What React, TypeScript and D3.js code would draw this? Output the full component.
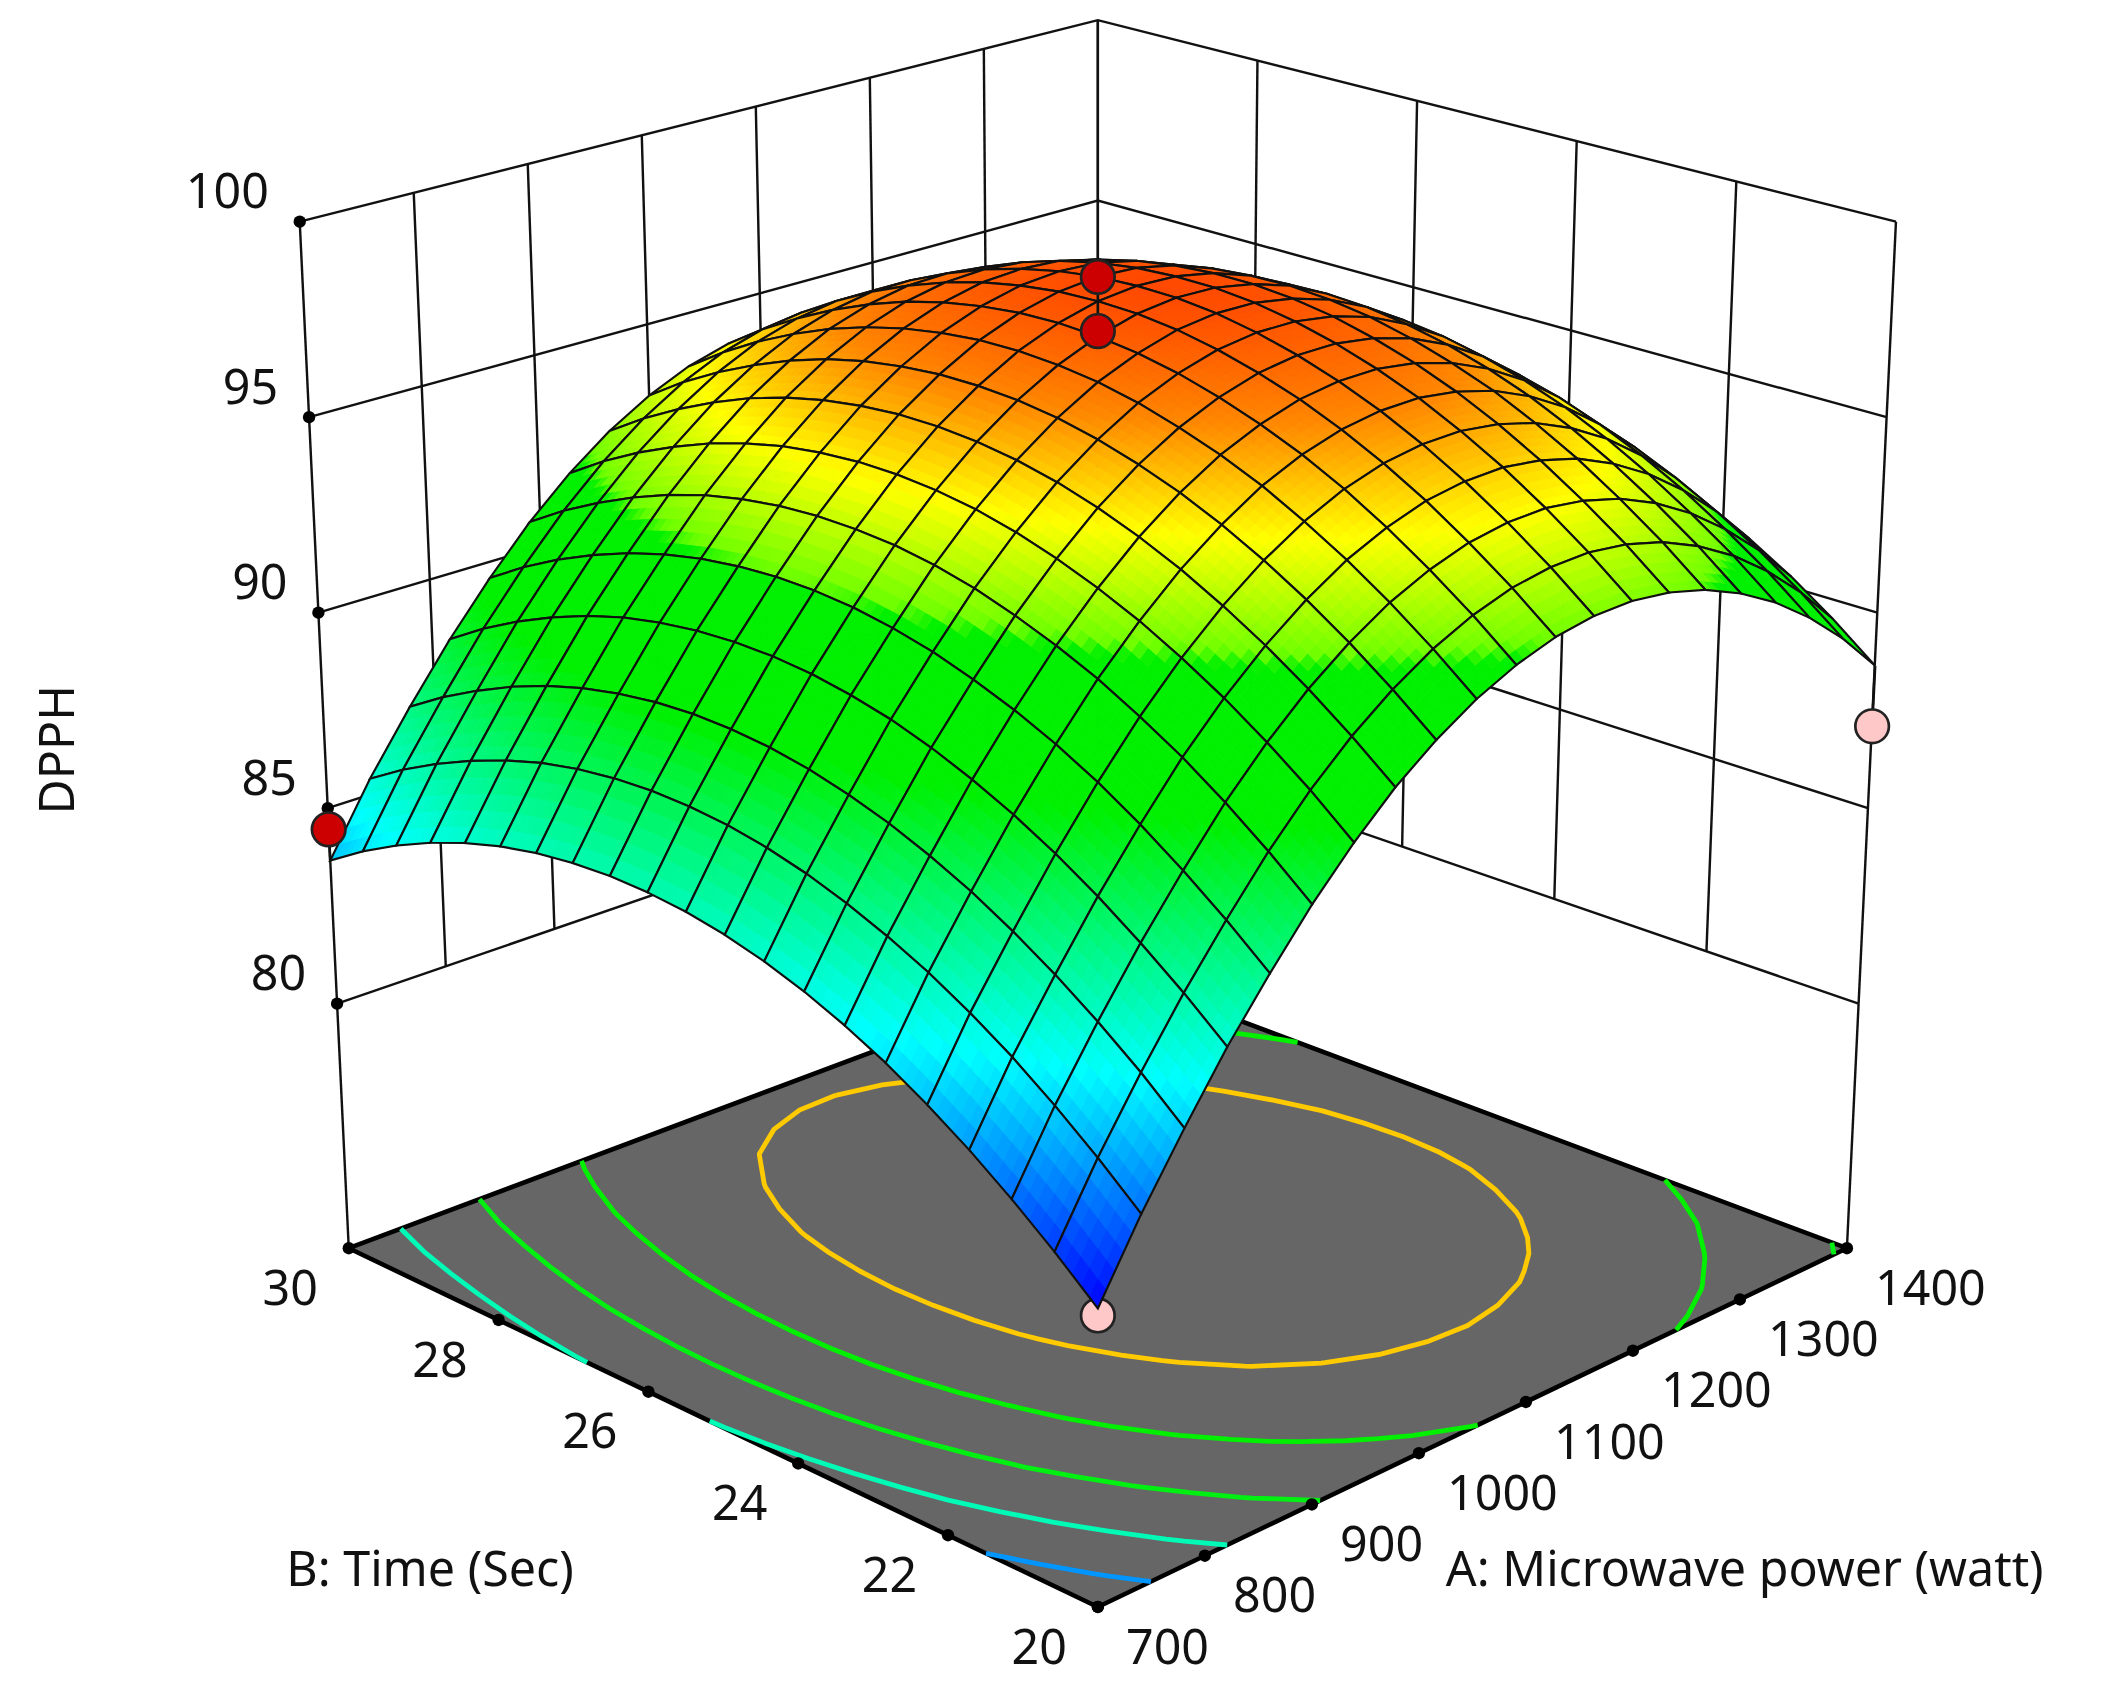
import * as d3 from "d3";

const VIEW_W = 1568;
const VIEW_H = 1263;

const powerTicks = [700, 800, 900, 1000, 1100, 1200, 1300, 1400];
const timeTicks = [20, 22, 24, 26, 28, 30];
const dpphTicks = [80, 85, 90, 95, 100];
const contourLevels = [83, 86, 89, 92, 95];

// DPPH, one row per time step (20 -> 30 s), one column per power step (700 -> 1400 W)
const dpphGrid = [
  [80.6, 82.35, 83.91, 85.39, 86.73, 87.98, 89.07, 90.02, 90.81, 91.46, 91.95, 92.3, 92.49, 92.54, 92.43, 92.18, 91.77, 91.22, 90.51, 89.66, 88.65],
  [81.48, 83.23, 84.79, 86.27, 87.61, 88.86, 89.95, 90.9, 91.69, 92.34, 92.83, 93.18, 93.37, 93.42, 93.31, 93.06, 92.65, 92.1, 91.39, 90.53, 89.52],
  [82.28, 84.03, 85.59, 87.07, 88.41, 89.66, 90.75, 91.7, 92.49, 93.14, 93.62, 93.97, 94.16, 94.21, 94.09, 93.84, 93.43, 92.87, 92.16, 91.31, 90.3],
  [83.01, 84.76, 86.32, 87.8, 89.14, 90.39, 91.48, 92.42, 93.21, 93.86, 94.34, 94.69, 94.87, 94.92, 94.8, 94.55, 94.13, 93.57, 92.86, 92.0, 90.98],
  [83.66, 85.41, 86.97, 88.45, 89.79, 91.03, 92.12, 93.06, 93.85, 94.49, 94.98, 95.32, 95.5, 95.54, 95.42, 95.16, 94.74, 94.18, 93.46, 92.59, 91.57],
  [84.24, 85.99, 87.55, 89.02, 90.36, 91.61, 92.69, 93.63, 94.41, 95.06, 95.54, 95.87, 96.05, 96.09, 95.96, 95.7, 95.27, 94.7, 93.97, 93.1, 92.07],
  [84.73, 86.48, 88.04, 89.51, 90.85, 92.09, 93.17, 94.11, 94.89, 95.53, 96.0, 96.34, 96.51, 96.54, 96.41, 96.13, 95.7, 95.12, 94.39, 93.51, 92.47],
  [85.15, 86.9, 88.46, 89.93, 91.26, 92.5, 93.58, 94.52, 95.29, 95.92, 96.39, 96.72, 96.89, 96.91, 96.77, 96.49, 96.05, 95.46, 94.71, 93.82, 92.77],
  [85.5, 87.25, 88.8, 90.28, 91.61, 92.85, 93.92, 94.85, 95.62, 96.25, 96.71, 97.03, 97.19, 97.2, 97.06, 96.77, 96.31, 95.72, 94.96, 94.06, 92.99],
  [85.77, 87.52, 89.07, 90.54, 91.87, 93.11, 94.18, 95.1, 95.87, 96.49, 96.94, 97.26, 97.41, 97.41, 97.25, 96.95, 96.49, 95.88, 95.11, 94.19, 93.11],
  [85.96, 87.71, 89.26, 90.73, 92.06, 93.29, 94.35, 95.27, 96.03, 96.64, 97.09, 97.4, 97.54, 97.53, 97.36, 97.05, 96.57, 95.95, 95.16, 94.23, 93.14],
  [86.07, 87.82, 89.37, 90.84, 92.16, 93.38, 94.45, 95.36, 96.11, 96.72, 97.16, 97.45, 97.58, 97.56, 97.38, 97.05, 96.56, 95.93, 95.12, 94.17, 93.06],
  [86.11, 87.86, 89.41, 90.87, 92.19, 93.41, 94.47, 95.38, 96.12, 96.72, 97.15, 97.43, 97.55, 97.52, 97.32, 96.98, 96.47, 95.82, 95.0, 94.03, 92.9],
  [86.07, 87.82, 89.37, 90.83, 92.14, 93.36, 94.41, 95.31, 96.04, 96.63, 97.05, 97.32, 97.43, 97.39, 97.18, 96.82, 96.29, 95.62, 94.78, 93.8, 92.64],
  [85.96, 87.71, 89.25, 90.71, 92.02, 93.23, 94.28, 95.17, 95.9, 96.47, 96.88, 97.14, 97.23, 97.18, 96.95, 96.58, 96.03, 95.34, 94.48, 93.47, 92.3],
  [85.77, 87.52, 89.06, 90.52, 91.82, 93.03, 94.06, 94.95, 95.67, 96.23, 96.63, 96.87, 96.95, 96.88, 96.64, 96.24, 95.68, 94.97, 94.09, 93.05, 91.85],
  [85.5, 87.24, 88.79, 90.24, 91.54, 92.74, 93.77, 94.65, 95.35, 95.91, 96.29, 96.52, 96.58, 96.49, 96.23, 95.82, 95.24, 94.5, 93.6, 92.54, 91.31],
  [85.15, 86.89, 88.44, 89.88, 91.18, 92.37, 93.39, 94.26, 94.95, 95.5, 95.87, 96.09, 96.13, 96.02, 95.74, 95.31, 94.7, 93.94, 93.01, 91.93, 90.67],
  [84.73, 86.47, 88.01, 89.46, 90.75, 91.93, 92.95, 93.8, 94.49, 95.02, 95.37, 95.57, 95.6, 95.47, 95.17, 94.72, 94.09, 93.3, 92.34, 91.23, 89.95],
  [84.24, 85.98, 87.52, 88.96, 90.24, 91.42, 92.43, 93.27, 93.95, 94.46, 94.8, 94.98, 95.0, 94.85, 94.52, 94.04, 93.39, 92.58, 91.59, 90.45, 89.13],
  [83.66, 85.4, 86.94, 88.37, 89.65, 90.82, 91.82, 92.65, 93.31, 93.81, 94.14, 94.3, 94.29, 94.12, 93.78, 93.27, 92.59, 91.75, 90.73, 89.56, 88.21],
];

// design points
const pointPower = [1050, 1050, 700, 1400, 700];
const pointTime = [25, 25, 30, 20, 20];
const pointDpph = [98.61, 97.23, 84.45, 87.1, 80.44];

const CELLS = dpphGrid.length - 1;
const SUB = 5;

const pScale = d3.scaleLinear().domain([700, 1400]).range([0, 1]);
const qScale = d3.scaleLinear().domain([20, 30]).range([0, 1]);
const wallH = d3.scaleLinear().domain([80, 100]).range([0.2382, 1]);
const surfaceH = d3.scaleLinear().domain([80, 85, 90, 95, 100]).range([0.2504, 0.4456, 0.6346, 0.819, 1]);

const colorScale = d3
  .scaleLinear<string>()
  .domain([80.6, 84.7, 89.3, 92.05, 92.3, 94.2, 96, 97.8, 99])
  .range(["#0000ff", "#00ffff", "#00f000", "#00f000", "#70ff00", "#ffff00", "#ff8800", "#ff4000", "#ff0000"])
  .clamp(true);

// floor and walls: the axes have even tick spacing, so corners are blended
const floorPoint = (p: number, q: number): [number, number] => [
  817 + 557.5 * (p - q),
  1196 - 267 * (p + q) + 58 * p * q,
];
const wallPoint = (p: number, q: number, h: number): [number, number] => {
  const [fx, fy] = floorPoint(p, q);
  const tx = 817 + 594 * (p - q);
  const ty = 351 - 186 * (p + q) + 36 * p * q;
  return [fx + (tx - fx) * h, fy + (ty - fy) * h];
};
// surface: true perspective
const surfacePoint = (p: number, q: number, z: number): [number, number] => {
  const h = surfaceH(z);
  const t = p + q;
  const w = 1 + 0.139 * t - 0.0726 * h;
  return [817 + (634.4 * (p - q)) / w, (1196 - 137.9 * t - 882 * h) / w];
};

const gridValue = (i: number, j: number) => {
  const i0 = Math.min(Math.floor(i), CELLS - 1);
  const j0 = Math.min(Math.floor(j), CELLS - 1);
  const a = i - i0;
  const b = j - j0;
  return (
    dpphGrid[j0][i0] * (1 - a) * (1 - b) +
    dpphGrid[j0][i0 + 1] * a * (1 - b) +
    dpphGrid[j0 + 1][i0] * (1 - a) * b +
    dpphGrid[j0 + 1][i0 + 1] * a * b
  );
};
const gridPoint = (i: number, j: number) => surfacePoint(i / CELLS, j / CELLS, gridValue(i, j));

const pathOf = d3.line();
const closed = (pts: [number, number][]) => pathOf(pts) + "Z";

function buildCells() {
  const order: { i: number; j: number }[] = [];
  for (let j = 0; j < CELLS; j++) for (let i = 0; i < CELLS; i++) order.push({ i, j });
  order.sort((a, b) => b.i + b.j - (a.i + a.j));
  return order;
}

function buildContours() {
  const n = dpphGrid.length;
  const flat = dpphGrid.flat();
  const polys = d3.contours().size([n, n]).thresholds(contourLevels)(flat);
  const out: { d: string; color: string }[] = [];
  polys.forEach((mp) => {
    const pieces: [number, number][][] = [];
    mp.coordinates.forEach((poly) =>
      poly.forEach((ring) => {
        let cur: [number, number][] = [];
        ring.forEach(([x, y]) => {
          const p = (x - 0.5) / (n - 1);
          const q = (y - 0.5) / (n - 1);
          if (p < -1e-6 || p > 1 + 1e-6 || q < -1e-6 || q > 1 + 1e-6) {
            if (cur.length > 1) pieces.push(cur);
            cur = [];
          } else cur.push(floorPoint(p, q));
        });
        if (cur.length > 1) pieces.push(cur);
      })
    );
    pieces.forEach((pts) => out.push({ d: pathOf(pts) as string, color: colorScale(mp.value) }));
  });
  return out;
}

const LABEL_FONT = "'Noto Sans', sans-serif";
const LINE = "#111";

export default function App() {
  const cells = buildCells();
  const contourPaths = buildContours();
  const hLow = wallH(80);

  const markers = pointPower.map((a, k) => {
    const p = pScale(a);
    const q = qScale(pointTime[k]);
    const z = pointDpph[k];
    const surf = gridValue(p * CELLS, q * CELLS);
    return { at: surfacePoint(p, q, z), foot: surfacePoint(p, q, surf), above: z > surf };
  });

  const marker = (m: (typeof markers)[number], k: number) => (
    <g key={k}>
      <line x1={m.at[0]} y1={m.at[1]} x2={m.foot[0]} y2={m.foot[1]} stroke={LINE} strokeWidth={2} />
      <circle cx={m.at[0]} cy={m.at[1]} r={12.5} fill={m.above ? "#cc0000" : "#ffc8c8"} stroke="#222" strokeWidth={2} />
    </g>
  );

  return (
    <svg
      viewBox={`0 0 ${VIEW_W} ${VIEW_H}`}
      width={2107}
      height={1697}
      style={{ position: "absolute", left: 0, top: 0, display: "block", background: "#fff" }}
      fontFamily={LABEL_FONT}
      fill="#111"
    >
      {/* walls */}
      <g stroke={LINE} strokeWidth={1.8} fill="none">
        {dpphTicks.map((v) => {
          const h = wallH(v);
          return (
            <path
              key={v}
              d={pathOf([wallPoint(0, 1, h), wallPoint(1, 1, h), wallPoint(1, 0, h)]) as string}
            />
          );
        })}
        {powerTicks.map((a) => {
          const p = pScale(a);
          return <path key={a} d={pathOf([wallPoint(p, 1, p === 1 ? 0 : hLow), wallPoint(p, 1, 1)]) as string} />;
        })}
        {timeTicks.map((b) => {
          const q = qScale(b);
          return <path key={b} d={pathOf([wallPoint(1, q, q === 1 ? 0 : hLow), wallPoint(1, q, 1)]) as string} />;
        })}
        <path d={pathOf([wallPoint(0, 1, 0), wallPoint(0, 1, hLow)]) as string} />
        <path d={pathOf([wallPoint(1, 0, 0), wallPoint(1, 0, hLow)]) as string} />
      </g>

      {/* floor */}
      <path
        d={closed([floorPoint(0, 0), floorPoint(1, 0), floorPoint(1, 1), floorPoint(0, 1)])}
        fill="#666666"
        stroke="#000"
        strokeWidth={3.4}
        strokeLinejoin="round"
      />
      <g fill="none" strokeWidth={3.6}>
        {contourPaths.map((c, k) => (
          <path key={k} d={c.d} stroke={c.color} />
        ))}
      </g>

      {/* tick dots */}
      <g fill="#000">
        {dpphTicks.map((v) => {
          const [x, y] = wallPoint(0, 1, wallH(v));
          return <circle key={v} cx={x} cy={y} r={4.6} />;
        })}
        {powerTicks.map((a) => {
          const [x, y] = floorPoint(pScale(a), 0);
          return <circle key={a} cx={x} cy={y} r={4.6} />;
        })}
        {timeTicks.map((b) => {
          const [x, y] = floorPoint(0, qScale(b));
          return <circle key={b} cx={x} cy={y} r={4.6} />;
        })}
      </g>

      {/* points under the surface */}
      {markers.map((m, k) => (m.above ? null : marker(m, k)))}

      {/* surface, far cells first */}
      {cells.map(({ i, j }) => {
        const parts = [];
        for (let a = 0; a < SUB; a++) {
          for (let b = 0; b < SUB; b++) {
            const x0 = i + a / SUB;
            const x1 = i + (a + 1) / SUB;
            const y0 = j + b / SUB;
            const y1 = j + (b + 1) / SUB;
            const col = colorScale(gridValue((x0 + x1) / 2, (y0 + y1) / 2));
            parts.push(
              <path
                key={`${a}-${b}`}
                d={closed([gridPoint(x0, y0), gridPoint(x1, y0), gridPoint(x1, y1), gridPoint(x0, y1)])}
                fill={col}
                stroke={col}
                strokeWidth={0.7}
              />
            );
          }
        }
        return (
          <g key={`${i}-${j}`}>
            {parts}
            <path
              d={closed([gridPoint(i, j), gridPoint(i + 1, j), gridPoint(i + 1, j + 1), gridPoint(i, j + 1)])}
              fill="none"
              stroke="#101010"
              strokeWidth={1.6}
            />
          </g>
        );
      })}

      {/* points above the surface */}
      {markers.map((m, k) => (m.above ? marker(m, k) : null))}

      {/* labels */}
      <g fontSize={36} dominantBaseline="central">
        {dpphTicks.map((v) => {
          const [x, y] = wallPoint(0, 1, wallH(v));
          return (
            <text key={v} x={x - 23} y={y - 24} textAnchor="end">
              {v}
            </text>
          );
        })}
        {powerTicks.map((a) => {
          const [x, y] = floorPoint(pScale(a), 0);
          return (
            <text key={a} x={x + 21} y={y + 28}>
              {a}
            </text>
          );
        })}
        {timeTicks.map((b) => {
          const [x, y] = floorPoint(0, qScale(b));
          return (
            <text key={b} x={x - 23} y={y + 28} textAnchor="end">
              {b}
            </text>
          );
        })}
        <text x={213} y={1166}>
          B: Time (Sec)
        </text>
        <text x={1076} y={1166}>
          A: Microwave power (watt)
        </text>
        <text transform="translate(41,558) rotate(-90)" textAnchor="middle">
          DPPH
        </text>
      </g>
    </svg>
  );
}
